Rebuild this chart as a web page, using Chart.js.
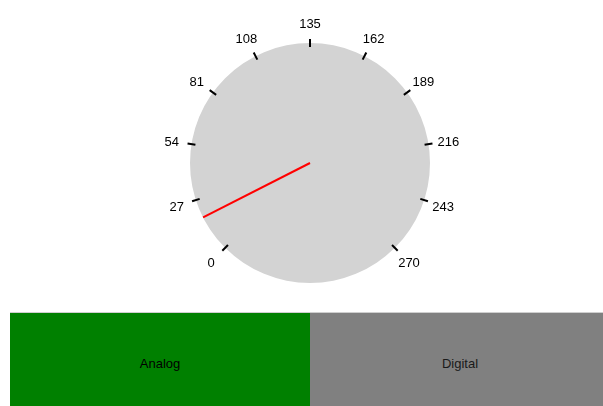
<!DOCTYPE html>
<html>
<head>
<meta charset="utf-8">
<script src="https://cdn.jsdelivr.net/npm/chart.js@4/dist/chart.umd.min.js"></script>
<style>
  html, body { margin: 0; padding: 0; background: #fff; overflow: hidden; }
  #wrap { position: absolute; left: 10px; top: 0; width: 600px; height: 310px; }
  .btn { position: absolute; top: 312px; height: 100px; width: 300px; display: flex; align-items: center; justify-content: center;
         font-family: "Liberation Sans", Arial, sans-serif; font-size: 13px; color: #111; border-top: 1px solid #cfcfcf; box-sizing: border-box; padding-top: 2px; }
  #analog { left: 10px; background: #008000; color: #000; }
  #digital { left: 310px; background: #808080; color: #1a1a1a; }
</style>
</head>
<body>
<div id="wrap"><canvas id="c"></canvas></div>
<div class="btn" id="analog">Analog</div>
<div class="btn" id="digital">Digital</div>
<script>
// ---- data ----
const gaugeMin = 0;
const gaugeMax = 270;
const tickValues = [0, 27, 54, 81, 108, 135, 162, 189, 216, 243, 270];
const tickLabels = ["0", "27", "54", "81", "108", "135", "162", "189", "216", "243", "270"];
const needleValue = [18];
const sweepDegrees = 270;

function valueToAngle(v) {
  // radians, canvas convention (0 = +x, clockwise); dial centred at top
  const frac = (v - gaugeMin) / (gaugeMax - gaugeMin);
  const deg = -90 - sweepDegrees / 2 + frac * sweepDegrees;
  return deg * Math.PI / 180;
}

const gaugePlugin = {
  id: 'gauge',
  afterDatasetsDraw(chart) {
    const arc = chart.getDatasetMeta(0).data[0];
    if (!arc) return;
    const cx = arc.x, cy = arc.y, R = arc.outerRadius;
    const ctx = chart.ctx;
    ctx.save();
    // ticks
    ctx.strokeStyle = '#000';
    ctx.lineWidth = 2;
    ctx.fillStyle = '#000';
    ctx.font = '13px "Liberation Sans", Arial, sans-serif';
    ctx.textAlign = 'center';
    ctx.textBaseline = 'middle';
    tickValues.forEach((v, i) => {
      const a = valueToAngle(v);
      const c = Math.cos(a), s = Math.sin(a);
      ctx.beginPath();
      ctx.moveTo(cx + c * (R - 4), cy + s * (R - 4));
      ctx.lineTo(cx + c * (R + 4), cy + s * (R + 4));
      ctx.stroke();
      ctx.fillText(tickLabels[i], cx + c * (R + 20), cy + s * (R + 20) + 1.5);
    });
    // needle
    const na = valueToAngle(needleValue[0]);
    ctx.strokeStyle = '#ff0000';
    ctx.lineWidth = 2;
    ctx.beginPath();
    ctx.moveTo(cx, cy);
    ctx.lineTo(cx + Math.cos(na) * R, cy + Math.sin(na) * R);
    ctx.stroke();
    ctx.restore();
  }
};

new Chart(document.getElementById('c'), {
  type: 'pie',
  data: {
    labels: ['dial'],
    datasets: [{ data: [gaugeMax - gaugeMin], backgroundColor: '#d3d3d3', borderWidth: 0 }]
  },
  options: {
    responsive: true,
    maintainAspectRatio: false,
    animation: false,
    events: [],
    layout: { padding: { top: 43, bottom: 27, left: 0, right: 0 } },
    plugins: { legend: { display: false }, tooltip: { enabled: false } }
  },
  plugins: [gaugePlugin]
});
</script>
</body>
</html>
